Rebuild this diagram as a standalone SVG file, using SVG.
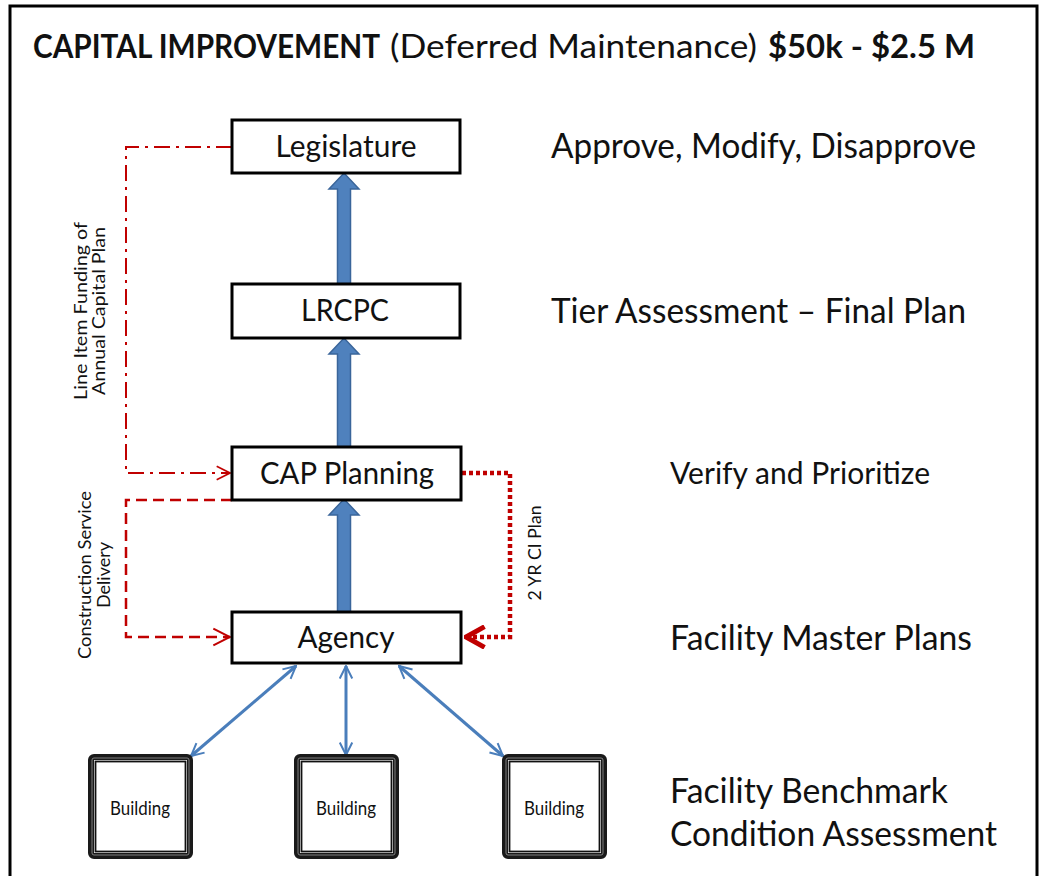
<svg xmlns="http://www.w3.org/2000/svg" width="1042" height="876" viewBox="0 0 1042 876">
  <style>
    text { font-family: Lato, "Open Sans", "Liberation Sans", sans-serif; fill: #111; }
    .title { font-size: 33px; }
    .b { font-weight: 700; }
    .box { fill: #fff; stroke: #000; stroke-width: 3; }
    .boxlabel { font-size: 30px; text-anchor: middle; }
    .side { font-size: 35px; }
    .vlabel { font-size: 18px; text-anchor: middle; }
    .bld-outer { fill: #fff; stroke: #1a1a1a; stroke-width: 6; }
    .bld-gap { fill: none; stroke: #999; stroke-width: 0.8; }
    .bld-inner { fill: none; stroke: #111; stroke-width: 1.8; }
    .bldlabel { font-size: 19px; text-anchor: middle; }
    .block { fill: #4f81bd; stroke: #3a659a; stroke-width: 1.5; }
    .link { fill: none; stroke: #4a7ebb; stroke-width: 3; marker-start: url(#vb); marker-end: url(#vb); }
    .red { fill: none; stroke: #c00000; }
    .dashdot { stroke-width: 2; stroke-dasharray: 16 6 3 6; }
    .dashed { stroke-width: 2.5; stroke-dasharray: 11 6; }
    .dotted { stroke-width: 4.5; stroke-dasharray: 4 3; }
  </style>
  <defs>
    <marker id="vb" viewBox="0 0 12 12" refX="11" refY="6" markerWidth="5" markerHeight="5" orient="auto-start-reverse" markerUnits="strokeWidth">
      <path d="M1,1 L11,6 L1,11" fill="none" stroke="#4a7ebb" stroke-width="1.6"/>
    </marker>
    <marker id="vr" viewBox="0 0 12 12" refX="11" refY="6" markerWidth="8" markerHeight="8" orient="auto" markerUnits="strokeWidth">
      <path d="M1,1 L11,6 L1,11" fill="none" stroke="#c00000" stroke-width="1.2"/>
    </marker>
    <marker id="vrb" viewBox="0 0 12 12" refX="11" refY="6" markerWidth="5.5" markerHeight="5.5" orient="auto" markerUnits="strokeWidth">
      <path d="M2,1 L11,6 L2,11" fill="none" stroke="#c00000" stroke-width="2.4"/>
    </marker>
  </defs>

  <rect width="1042" height="876" fill="#fff"/>
  <!-- page frame (open at the bottom) -->
  <path d="M10,876 L10,6 L1037,6 L1037,876" fill="none" stroke="#000" stroke-width="3"/>

  <!-- heading -->
  <text class="title b" x="33" y="58" textLength="347" lengthAdjust="spacingAndGlyphs">CAPITAL IMPROVEMENT</text>
  <text class="title" x="390" y="58" textLength="367" lengthAdjust="spacingAndGlyphs">(Deferred Maintenance)</text>
  <text class="title b" x="768" y="58" textLength="207" lengthAdjust="spacingAndGlyphs">$50k - $2.5 M</text>

  <!-- connectors -->
  <g id="connectors">
    <!-- upward flow block arrows -->
    <path class="block" d="M337.5,612 L337.5,515 L329,515 L344,499 L359,515 L350.5,515 L350.5,612 Z"/>
    <path class="block" d="M337.5,447 L337.5,354 L329,354 L344,338 L359,354 L350.5,354 L350.5,447 Z"/>
    <path class="block" d="M337.5,284 L337.5,189 L329,189 L344,173 L359,189 L350.5,189 L350.5,284 Z"/>
    <!-- agency to buildings -->
    <line class="link" x1="296" y1="666" x2="191" y2="756"/>
    <line class="link" x1="346" y1="666" x2="346" y2="755"/>
    <line class="link" x1="399" y1="666" x2="503" y2="756"/>
    <!-- funding loop -->
    <path class="red dashdot" d="M232,147 L126,147 L126,473 L230,473" marker-end="url(#vr)"/>
    <!-- construction service delivery -->
    <path class="red dashed" d="M232,500 L126,500 L126,637 L230,637" marker-end="url(#vr)"/>
    <!-- 2 yr plan -->
    <path class="red dotted" d="M462,473 L510,473 L510,637 L466,637" marker-end="url(#vrb)"/>
  </g>

  <!-- connector labels -->
  <g id="connector-labels">
    <text class="vlabel" transform="translate(87,311) rotate(-90)" textLength="178" lengthAdjust="spacingAndGlyphs">Line Item Funding of</text>
    <text class="vlabel" transform="translate(105,311) rotate(-90)" textLength="168" lengthAdjust="spacingAndGlyphs">Annual Capital Plan</text>
    <text class="vlabel" transform="translate(91,575) rotate(-90)" textLength="168" lengthAdjust="spacingAndGlyphs">Construction Service</text>
    <text class="vlabel" transform="translate(110,575) rotate(-90)" textLength="66" lengthAdjust="spacingAndGlyphs">Delivery</text>
    <text class="vlabel" transform="translate(541,553) rotate(-90)" textLength="95" lengthAdjust="spacingAndGlyphs">2 YR CI Plan</text>
  </g>

  <!-- process nodes -->
  <g id="legislature">
    <rect class="box" x="232" y="120" width="228" height="53"/>
    <text class="boxlabel" x="346" y="157" textLength="141" lengthAdjust="spacingAndGlyphs">Legislature</text>
  </g>
  <g id="lrcpc">
    <rect class="box" x="232" y="284" width="228" height="54"/>
    <text class="boxlabel" x="345" y="321" textLength="88" lengthAdjust="spacingAndGlyphs">LRCPC</text>
  </g>
  <g id="cap-planning">
    <rect class="box" x="232" y="447" width="229" height="53"/>
    <text class="boxlabel" x="347" y="484" textLength="174" lengthAdjust="spacingAndGlyphs">CAP Planning</text>
  </g>
  <g id="agency">
    <rect class="box" x="232" y="612" width="229" height="51"/>
    <text class="boxlabel" x="346" y="648" textLength="97" lengthAdjust="spacingAndGlyphs">Agency</text>
  </g>

  <!-- buildings -->
  <g id="building-1">
    <rect class="bld-outer" x="91" y="757" width="99" height="99" rx="3"/>
    <rect class="bld-gap" x="92" y="758" width="97" height="97" rx="2"/>
    <rect class="bld-inner" x="95.5" y="761.5" width="90" height="90"/>
    <text class="bldlabel" x="140" y="815" textLength="60" lengthAdjust="spacingAndGlyphs">Building</text>
  </g>
  <g id="building-2">
    <rect class="bld-outer" x="297" y="757" width="99" height="99" rx="3"/>
    <rect class="bld-gap" x="298" y="758" width="97" height="97" rx="2"/>
    <rect class="bld-inner" x="301.5" y="761.5" width="90" height="90"/>
    <text class="bldlabel" x="346" y="815" textLength="60" lengthAdjust="spacingAndGlyphs">Building</text>
  </g>
  <g id="building-3">
    <rect class="bld-outer" x="505" y="757" width="99" height="99" rx="3"/>
    <rect class="bld-gap" x="506" y="758" width="97" height="97" rx="2"/>
    <rect class="bld-inner" x="509.5" y="761.5" width="90" height="90"/>
    <text class="bldlabel" x="554" y="815" textLength="60" lengthAdjust="spacingAndGlyphs">Building</text>
  </g>

  <!-- stage descriptions -->
  <g id="stage-labels">
    <text class="side" x="551" y="158" textLength="425" lengthAdjust="spacingAndGlyphs">Approve, Modify, Disapprove</text>
    <text class="side" x="551" y="323" textLength="415" lengthAdjust="spacingAndGlyphs">Tier Assessment – Final Plan</text>
    <text class="side" x="670" y="484" style="font-size:31px" textLength="260" lengthAdjust="spacingAndGlyphs">Verify and Prioritize</text>
    <text class="side" x="670" y="650" textLength="302" lengthAdjust="spacingAndGlyphs">Facility Master Plans</text>
    <text class="side" x="670" y="803" textLength="278" lengthAdjust="spacingAndGlyphs">Facility Benchmark</text>
    <text class="side" x="670" y="846" textLength="327" lengthAdjust="spacingAndGlyphs">Condition Assessment</text>
  </g>
</svg>
